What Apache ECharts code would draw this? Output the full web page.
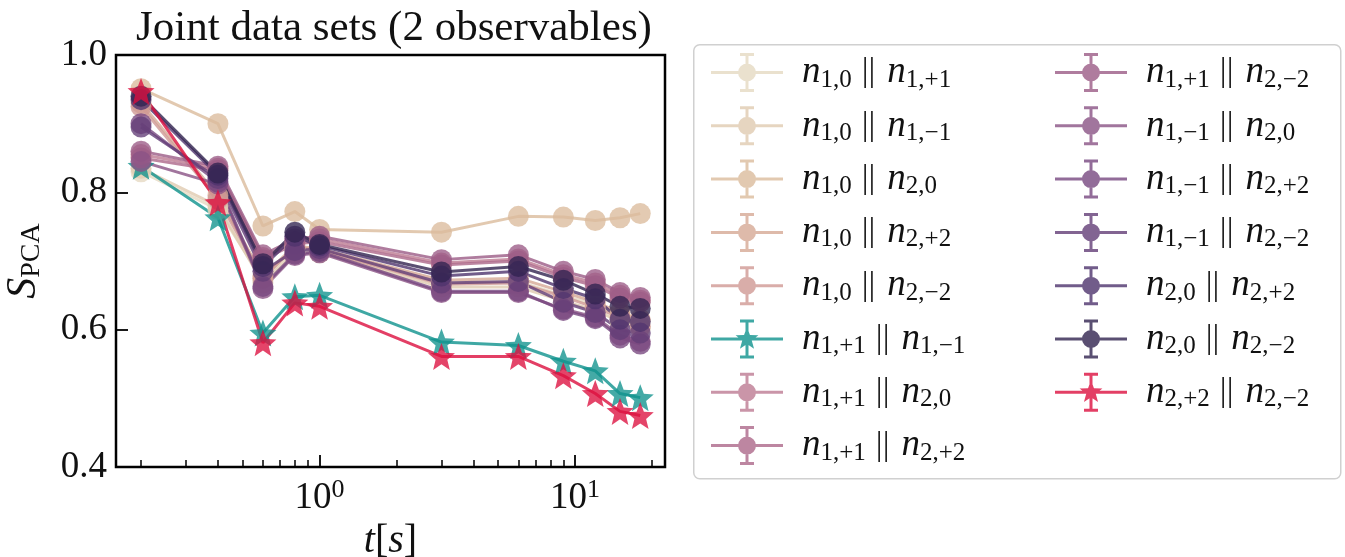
<!DOCTYPE html>
<html>
<head>
<meta charset="utf-8">
<script src="https://cdn.jsdelivr.net/npm/echarts@6/dist/echarts.min.js"></script>
<style>
  html, body { margin: 0; padding: 0; background: #fff; }
  #chart { width: 1345px; height: 557px; }
</style>
</head>
<body>
<div id="chart"></div>
<script>
// time points t[s]
const times = [0.2, 0.4, 0.6, 0.8, 1, 3, 6, 9, 12, 15, 18];

// pair labels (subscripts of the two observables)
const pairs = [
  ['1,0', '1,+1'], ['1,0', '1,−1'], ['1,0', '2,0'], ['1,0', '2,+2'], ['1,0', '2,−2'],
  ['1,+1', '1,−1'], ['1,+1', '2,0'], ['1,+1', '2,+2'], ['1,+1', '2,−2'],
  ['1,−1', '2,0'], ['1,−1', '2,+2'], ['1,−1', '2,−2'],
  ['2,0', '2,+2'], ['2,0', '2,−2'], ['2,+2', '2,−2']
];

// S_PCA values, one array per pair
const s_10_1p1 = [0.830, 0.775, 0.672, 0.718, 0.715, 0.668, 0.670, 0.650, 0.636, 0.620, 0.612];
const s_10_1m1 = [0.835, 0.780, 0.668, 0.712, 0.712, 0.662, 0.662, 0.642, 0.628, 0.612, 0.602];
const s_10_20  = [0.951, 0.900, 0.751, 0.772, 0.746, 0.742, 0.765, 0.764, 0.759, 0.763, 0.769];
const s_10_2p2 = [0.930, 0.795, 0.678, 0.722, 0.718, 0.672, 0.675, 0.655, 0.640, 0.625, 0.615];
const s_10_2m2 = [0.925, 0.790, 0.675, 0.720, 0.716, 0.666, 0.668, 0.648, 0.632, 0.618, 0.605];
const s_1p1_1m1 = [0.838, 0.763, 0.595, 0.648, 0.650, 0.582, 0.577, 0.554, 0.540, 0.507, 0.501];
const s_1p1_20  = [0.855, 0.835, 0.705, 0.728, 0.732, 0.697, 0.703, 0.680, 0.668, 0.650, 0.643];
const s_1p1_2p2 = [0.850, 0.832, 0.702, 0.725, 0.728, 0.694, 0.700, 0.676, 0.664, 0.646, 0.640];
const s_1p1_2m2 = [0.860, 0.838, 0.709, 0.732, 0.736, 0.702, 0.709, 0.685, 0.673, 0.654, 0.647];
const s_1m1_20  = [0.845, 0.812, 0.660, 0.708, 0.712, 0.654, 0.654, 0.630, 0.618, 0.592, 0.583];
const s_1m1_2p2 = [0.900, 0.815, 0.663, 0.710, 0.714, 0.656, 0.656, 0.628, 0.616, 0.588, 0.579];
const s_1m1_2m2 = [0.895, 0.820, 0.685, 0.715, 0.718, 0.668, 0.670, 0.640, 0.625, 0.600, 0.595];
const s_20_2p2  = [0.935, 0.825, 0.692, 0.736, 0.722, 0.678, 0.685, 0.660, 0.645, 0.615, 0.612];
const s_20_2m2  = [0.940, 0.828, 0.696, 0.742, 0.724, 0.684, 0.692, 0.672, 0.652, 0.634, 0.631];
const s_2p2_2m2 = [0.947, 0.785, 0.581, 0.639, 0.634, 0.561, 0.561, 0.533, 0.507, 0.481, 0.475];

const values = [s_10_1p1, s_10_1m1, s_10_20, s_10_2p2, s_10_2m2, s_1p1_1m1, s_1p1_20, s_1p1_2p2,
  s_1p1_2m2, s_1m1_20, s_1m1_2p2, s_1m1_2m2, s_20_2p2, s_20_2m2, s_2p2_2m2];

const colors = ['#e5d9c2', '#e0cbb0', '#dbbb9c', '#d6a995', '#cf9993', '#0f928d', '#bd7b92', '#ac6889',
  '#9b5b86', '#8a5285', '#77477f', '#633d77', '#4e336d', '#31234f', '#dc0f3f'];
const isStar = [false, false, false, false, false, true, false, false, false, false, false, false, false, false, true];

const xMajor = [1, 10];
const xMinor = [0.2, 0.3, 0.4, 0.5, 0.6, 0.7, 0.8, 0.9, 2, 3, 4, 5, 6, 7, 8, 9, 20];

// shapes
function starPath(cx, cy, R, r) {
  let d = '';
  for (let k = 0; k < 10; k++) {
    const a = -Math.PI / 2 + k * Math.PI / 5;
    const rr = k % 2 === 0 ? R : r;
    d += (k === 0 ? 'M' : 'L') + (cx + rr * Math.cos(a)).toFixed(2) + ' ' + (cy + rr * Math.sin(a)).toFixed(2) + ' ';
  }
  return d + 'Z';
}
const errbar = 'M0 18.5 H72 V21.5 H0 Z M34.5 2 H37.5 V38 H34.5 Z M29 0.5 H43 V3.5 H29 Z M29 36.5 H43 V39.5 H29 Z ';
const iconCircle = 'path://' + errbar + 'M27 20 A9 9 0 1 1 45 20 A9 9 0 1 1 27 20 Z';
const iconStar = 'path://' + errbar + starPath(36, 20, 12, 5);
const starSym = 'path://' + starPath(0, 0, 12, 5.2);

const SERIF = 'Liberation Serif';
const names = pairs.map(p => 'n' + p[0] + '|' + 'n' + p[1]);

const legendRich = {
  n: { fontFamily: SERIF, fontStyle: 'italic', fontSize: 37, lineHeight: 40, color: '#111' },
  sub: { fontFamily: SERIF, fontSize: 25, lineHeight: 14, verticalAlign: 'bottom', color: '#111' },
  bar: { fontFamily: SERIF, fontSize: 34, lineHeight: 40, padding: [0, 12, 0, 10], color: '#222' }
};
function legendText(name) {
  const p = pairs[names.indexOf(name)];
  return '{n|n}{sub|' + p[0] + '}{bar|||}{n|n}{sub|' + p[1] + '}';
}
function legendItems(list) {
  return list.map(n => ({ name: n, icon: isStar[names.indexOf(n)] ? iconStar : iconCircle }));
}

const series = values.map((v, i) => ({
  name: names[i],
  type: 'line',
  data: times.map((t, j) => [t, v[j]]),
  symbol: isStar[i] ? starSym : 'circle',
  symbolSize: isStar[i] ? 27 : 21,
  showAllSymbol: true,
  color: colors[i],
  lineStyle: { width: 3, color: colors[i], opacity: 0.8 },
  itemStyle: { color: colors[i], opacity: 0.78, borderWidth: 0 },
  emphasis: { disabled: true },
  z: 2
}));

const legendBase = {
  orient: 'vertical', top: 48, itemWidth: 72, itemHeight: 40, itemGap: 13.8,
  itemStyle: { opacity: 0.8, borderWidth: 0 },
  formatter: legendText, textStyle: { rich: legendRich, padding: [0, 0, 0, 14] },
  selectedMode: false
};

const chart = echarts.init(document.getElementById('chart'), null, { renderer: 'canvas' });
chart.setOption({
  animation: false,
  backgroundColor: '#fff',
  title: {
    text: 'Joint data sets (2 observables)',
    left: 389, top: 2, textAlign: 'center',
    textStyle: { fontFamily: SERIF, fontWeight: 'normal', fontSize: 43, color: '#111' }
  },
  grid: {
    left: 116, right: 680, top: 55, bottom: 90, outerBoundsMode: 'none', containLabel: false,
    show: true, borderColor: '#000', borderWidth: 2.5, backgroundColor: 'transparent'
  },
  legend: [
    Object.assign({}, legendBase, { data: legendItems(names.slice(0, 8)), left: 706 }),
    Object.assign({}, legendBase, { data: legendItems(names.slice(8)), left: 1050 })
  ],
  graphic: [{
    type: 'rect', left: 693, top: 44, z: -1,
    shape: { width: 647, height: 434, r: 6 },
    style: { fill: '#fff', stroke: '#d0d0d0', lineWidth: 1.5 }
  }],
  xAxis: [
    {
      type: 'log', logBase: 10, min: 0.1596, max: 22.5, position: 'bottom',
      name: '{i|t}{r|[}{i|s}{r|]}', nameLocation: 'middle', nameGap: 47,
      nameTextStyle: { rich: {
        i: { fontFamily: SERIF, fontStyle: 'italic', fontSize: 40, color: '#111' },
        r: { fontFamily: SERIF, fontSize: 40, color: '#111' }
      } },
      axisLine: { show: false },
      splitLine: { show: false },
      axisTick: { show: true, inside: true, length: 12, customValues: xMajor, lineStyle: { color: '#000', width: 1.8 } },
      axisLabel: {
        customValues: xMajor, margin: 10,
        formatter: v => '{b|10}{s|' + Math.round(Math.log10(v)) + '}',
        rich: {
          b: { fontFamily: SERIF, fontSize: 37, lineHeight: 40, verticalAlign: 'bottom', color: '#111' },
          s: { fontFamily: SERIF, fontSize: 26, lineHeight: 28, verticalAlign: 'top', color: '#111' }
        }
      }
    },
    {
      type: 'log', logBase: 10, min: 0.1596, max: 22.5, position: 'bottom',
      axisLine: { show: false }, splitLine: { show: false }, axisLabel: { show: false },
      axisTick: { show: true, inside: true, length: 7, customValues: xMinor, lineStyle: { color: '#000', width: 1.5 } }
    }
  ],
  yAxis: {
    type: 'value', min: 0.4, max: 1.0, interval: 0.2,
    name: '{s|S}{sub|PCA}', nameLocation: 'middle', nameGap: 70, nameRotate: 90,
    nameTextStyle: { rich: {
      s: { fontFamily: SERIF, fontStyle: 'italic', fontSize: 42, lineHeight: 44, color: '#111' },
      sub: { fontFamily: SERIF, fontSize: 28, lineHeight: 16, verticalAlign: 'bottom', color: '#111' }
    } },
    axisLine: { show: false }, splitLine: { show: false },
    axisTick: { show: true, inside: true, length: 12, lineStyle: { color: '#000', width: 1.8 } },
    axisLabel: { margin: 9, fontFamily: SERIF, fontSize: 37, color: '#111', formatter: v => v.toFixed(1) }
  },
  series: series
});
</script>
</body>
</html>
